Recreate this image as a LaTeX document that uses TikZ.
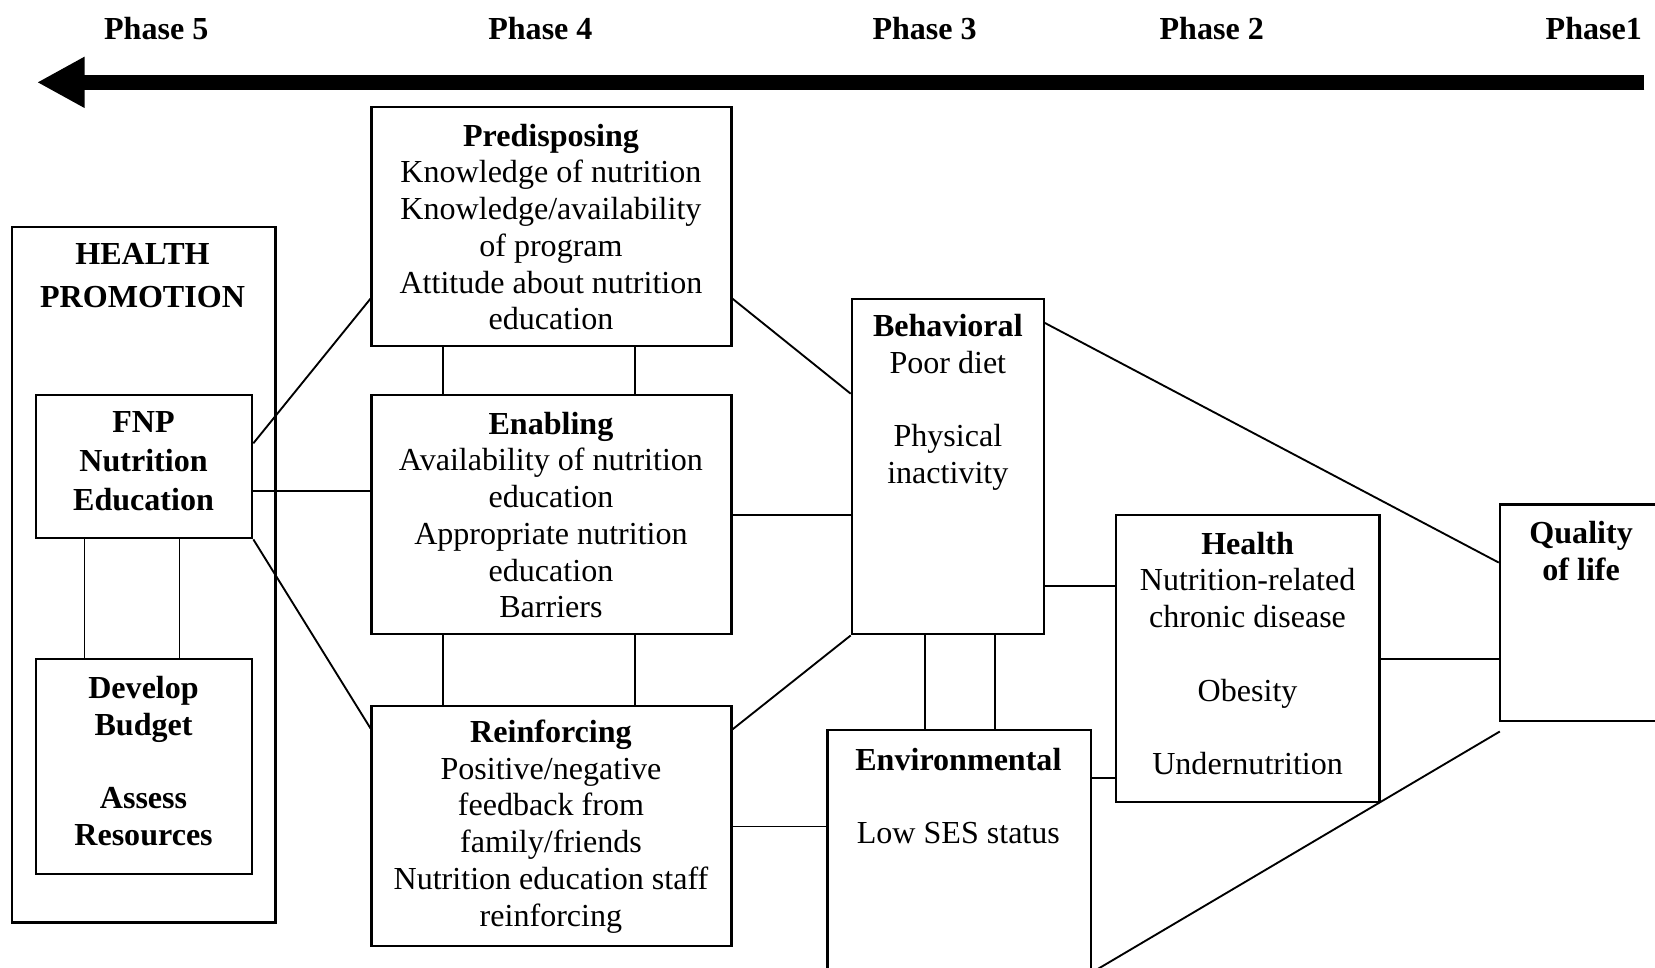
\documentclass[tikz,border=0pt]{standalone}
\usepackage{fontspec}
\setmainfont{Liberation Serif}
\usetikzlibrary{arrows.meta,fit}

\tikzset{
  box/.style={draw, line width=0.8pt, inner sep=0pt},
  txt/.style={align=center, font=\fontsize{12}{13.75}\selectfont},
  boldtxt/.style={align=center, font=\fontsize{12}{13.75}\selectfont\bfseries},
  head/.style={align=center, font=\fontsize{12}{14.6}\selectfont\bfseries},
  phase/.style={font=\fontsize{12}{14}\selectfont\bfseries},
  link/.style={line width=0.7pt},
  timeline/.style={line width=5.5pt, -{Triangle[length=17.8pt,width=17.8pt]}},
}

\begin{document}
\begin{tikzpicture}[x=0.395pt,y=-0.395pt]
\useasboundingbox (0,0) rectangle (1568,917);
\clip (0,0) rectangle (1568,917);

% Phases and time arrow
\node[phase] (phase5) at (148,27) {Phase 5};
\node[phase] (phase4) at (512,27) {Phase 4};
\node[phase] (phase3) at (876,27) {Phase 3};
\node[phase] (phase2) at (1148,27) {Phase 2};
\node[phase] (phase1) at (1510,27) {Phase1};
\coordinate (tright) at (1558,78);
\coordinate (tleft) at (35,78);
\draw[timeline] (tright) -- (tleft);

% Health promotion
\node[box, fit={(11,215) (261,874)}] (hp) {};
\node[align=center, font=\fontsize{12}{15.8}\selectfont\bfseries] (hptext) at (135,261) {HEALTH\\PROMOTION};
\node[box, fit={(34,374) (239,510)}] (fnp) {};
\node[head] (fnptext) at (136,437) {FNP\\Nutrition\\Education};
\node[box, fit={(34,624) (239,828)}] (dev) {};
\node[boldtxt] (devtext) at (136,721) {Develop\\Budget\\[13.75pt]Assess\\Resources};
\draw[link] (fnp.south -| 80,0) -- (dev.north -| 80,0);
\draw[link] (fnp.south -| 170,0) -- (dev.north -| 170,0);

% Educational and ecological diagnosis
\node[box, fit={(352,101) (693,328)}] (pred) {};
\node[txt] (predtext) at (522,215) {\textbf{Predisposing}\\Knowledge of nutrition\\Knowledge/availability\\of program\\Attitude about nutrition\\education};
\node[box, fit={(352,374) (693,601)}] (enab) {};
\node[txt] (enabtext) at (522,488) {\textbf{Enabling}\\Availability of nutrition\\education\\Appropriate nutrition\\education\\Barriers};
\node[box, fit={(352,669) (693,896)}] (reinf) {};
\node[txt] (reinftext) at (522,783) {\textbf{Reinforcing}\\Positive/negative\\feedback from\\family/friends\\Nutrition education staff\\reinforcing};
\draw[link] (pred.south -| 420,0) -- (enab.north -| 420,0);
\draw[link] (pred.south -| 602,0) -- (enab.north -| 602,0);
\draw[link] (enab.south -| 420,0) -- (reinf.north -| 420,0);
\draw[link] (enab.south -| 602,0) -- (reinf.north -| 602,0);

\draw[link] (fnp.east |- 0,420) -- (pred.west |- 0,283);
\draw[link] (fnp.east |- 0,465) -- (enab.west |- 0,465);
\draw[link] (fnp.south east) -- (reinf.west |- 0,690);

% Behavioral and environmental diagnosis
\node[box, fit={(807,283) (989,601)}] (behav) {};
\node[txt] (behavtext) at (898,381) {\textbf{Behavioral}\\Poor diet\\[13.75pt]Physical\\inactivity};
\node[box, fit={(784,692) (1034,920)}] (env) {};
\node[txt] (envtext) at (908,754) {\textbf{Environmental}\\[13.75pt]Low SES status};
\draw[link] (behav.south -| 876,0) -- (env.north -| 876,0);
\draw[link] (behav.south -| 943,0) -- (env.north -| 943,0);

\draw[link] (pred.east |- 0,283) -- (behav.west |- 0,373);
\draw[link] (enab.east |- 0,488) -- (behav.west |- 0,488);
\draw[link] (reinf.east |- 0,691) -- (behav.south west);
\draw[link] (reinf.east |- 0,783) -- (env.west |- 0,783);

% Epidemiological diagnosis
\node[box, fit={(1057,488) (1307,760)}] (health) {};
\node[txt] (healthtext) at (1182,619) {\textbf{Health}\\Nutrition-related\\chronic disease\\[13.75pt]Obesity\\[13.75pt]Undernutrition};
\draw[link] (behav.east |- 0,555) -- (health.west |- 0,555);
\draw[link] (env.east |- 0,737) -- (health.west |- 0,737);

% Social diagnosis
\node[box, fit={(1421,478) (1600,683)}] (qol) {};
\node[boldtxt] (qoltext) at (1498,522) {Quality\\of life};
\coordinate (qolfoot) at (1421,693);
\draw[link] (behav.east |- 0,306) -- (qol.west |- 0,533);
\draw[link] (health.east |- 0,624) -- (qol.west |- 0,624);
\draw[link] (env.south east) -- (qolfoot);

\end{tikzpicture}
\end{document}
